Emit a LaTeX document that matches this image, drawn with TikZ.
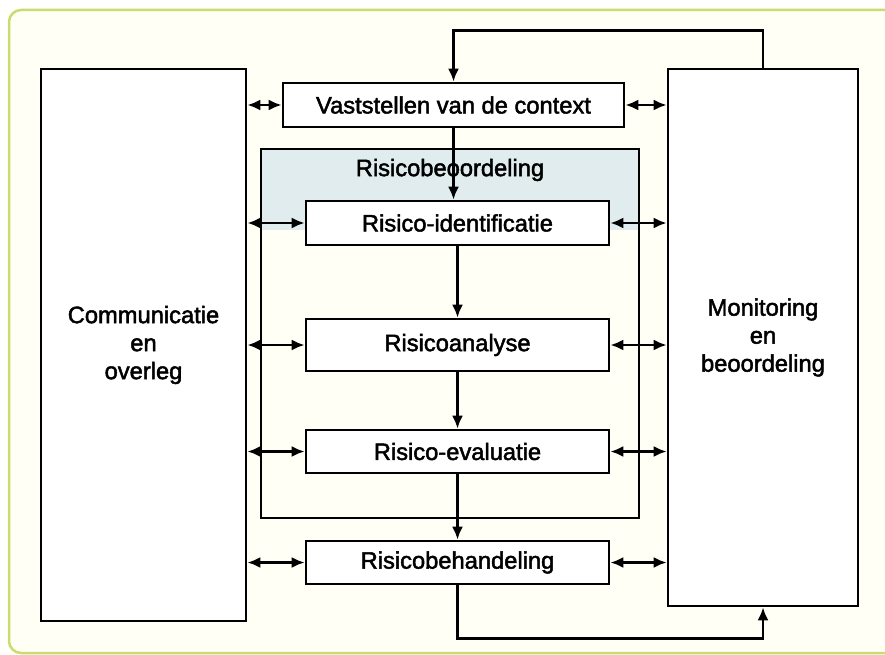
\documentclass[tikz,border=0pt]{standalone}
\usepackage{fontspec}
\setmainfont{Liberation Sans}[FakeBold=2]
\usepackage{tikz}
\usetikzlibrary{arrows.meta,positioning}

\definecolor{framegreen}{RGB}{200,221,110}
\definecolor{paper}{RGB}{255,255,246}
\definecolor{riskshade}{RGB}{224,236,237}

\begin{document}
\begin{tikzpicture}[
    x=1pt, y=-1pt,
    box/.style={draw, fill=white, line width=2.6pt, align=center, inner sep=0pt, font=\fontsize{23.7}{28}\selectfont},
    stage/.style={box, minimum width=303pt},
    arrow/.style={-{Latex[length=13pt,width=11pt]}, line width=2.6pt},
    dblarrow/.style={{Latex[length=13pt,width=11pt]}-{Latex[length=13pt,width=11pt]}, line width=2.6pt}
]
\useasboundingbox (0,0) rectangle (885,655);
\fill[paper] (9,10) rectangle (900,660);
\draw[framegreen, line width=2.5pt, rounded corners=12pt] (9,10) rectangle (900,653);

% risk assessment frame
\fill[riskshade] (261,149) rectangle (639,230);
\draw[line width=2.6pt] (261,149) rectangle (639,518);
\node[font=\fontsize{23.7}{28}\selectfont] (beoord) at (450,170) {Risicobeoordeling};

\node[box, minimum width=205pt, minimum height=552pt] (comm) at (143.5,345) {Communicatie\\en\\overleg};
\node[box, minimum width=190pt, minimum height=537pt] (monit) at (763,337.5) {Monitoring\\en\\beoordeling};
\node[box, minimum width=341pt, minimum height=44pt] (context) at (453.5,105) {Vaststellen van de context};

\node[stage, minimum height=44pt] (ident) at (457.5,223) {Risico-identificatie};
\node[stage, minimum height=52pt] (analyse) at (457.5,345) {Risicoanalyse};
\node[stage, minimum height=43pt] (evalu) at (457.5,451.5) {Risico-evaluatie};
\node[stage, minimum height=43pt] (behand) at (457.5,562.5) {Risicobehandeling};

\draw[arrow] (context.south) -- (context.south |- ident.north);
\draw[arrow] (ident) -- (analyse);
\draw[arrow] (analyse) -- (evalu);
\draw[arrow] (evalu) -- (behand);

\foreach \n in {context, ident, analyse, evalu, behand} {
    \draw[dblarrow] (comm.east |- \n) -- (\n.west);
    \draw[dblarrow] (\n.east) -- (monit.west |- \n);
}

% feedback loops
\draw[arrow] (monit.north) -- ++(0,-37) -| (context.north);
\draw[arrow] (behand.south) -- ++(0,53) -| (monit.south);
\end{tikzpicture}
\end{document}
